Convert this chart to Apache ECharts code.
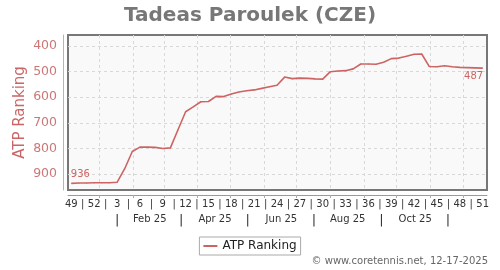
<!DOCTYPE html>
<html><head><meta charset="utf-8">
<script src="https://cdn.jsdelivr.net/npm/echarts@6/dist/echarts.min.js"></script>
<style>html,body{margin:0;padding:0;background:#fff}#c{width:500px;height:270px}</style>
</head><body><div id="c"></div>
<script>
// ISO week numbers, week 49 of 2024 through week 51 of 2025
const weekNumbers = [49,50,51,52,1,2,3,4,5,6,7,8,9,10,11,12,13,14,15,16,17,18,19,20,21,22,23,24,25,26,27,28,29,30,31,32,33,34,35,36,37,38,39,40,41,42,43,44,45,46,47,48,49,50,51];
// ATP ranking per week
const ranking = [936,935,935,934,934,934,932,879,812,795,795,796,800,798,727,657,638,618,617,597,598,588,580,575,572,566,560,554,522,528,526,527,529,530,501,498,497,490,471,471,472,464,450,448,441,433,432,481,482,478,482,484,485,486,487];
// days from 1 Jan 2025 of each month start (grid lines)
const monthStartDays = [0,31,59,90,120,151,181,212,243,273,304,334];
const monthLabels = ['Feb 25','Apr 25','Jun 25','Aug 25','Oct 25'];
const monthLabelDays = [46,106,167,228,290];
const monthSepDays = [16,75,136,197,259,320];
const yTicks = [400,500,600,700,800,900];
const seriesName = 'ATP Ranking';
const titleText = 'Tadeas Paroulek (CZE)';
const copyright = '\u00a9 www.coretennis.net, 12-17-2025';

const FIRST_DAY = -26; // date of first week point relative to 1 Jan 2025
const weekDay = i => FIRST_DAY + 7 * i;
const key = v => Number(v).toFixed(2);

const row1 = new Map();
const row1Vals = [];
for (let i = 0; i < weekNumbers.length; i += 3) {
  row1.set(key(weekDay(i)), String(weekNumbers[i])); row1Vals.push(weekDay(i));
  if (i + 3 < weekNumbers.length) { const s = weekDay(i + 1.5); row1.set(key(s), '|'); row1Vals.push(s); }
}
const row2 = new Map();
const row2Vals = [];
monthLabels.forEach((m, k) => { row2.set(key(monthLabelDays[k]), m); row2Vals.push(monthLabelDays[k]); });
monthSepDays.forEach(d => { row2.set(key(d), '{s||}'); row2Vals.push(d); });

const lineColor = '#cd6464';
const data = ranking.map((v, i) => {
  const item = { value: [weekDay(i), v] };
  if (i === 0) item.label = { show: true, position: 'top', offset: [9, 0], distance: 3 };
  if (i === ranking.length - 1) item.label = { show: true, position: 'bottom', offset: [-9, 0], distance: 3 };
  return item;
});

const XMIN = -29.1, XMAX = 356;
const chart = echarts.init(document.getElementById('c'), null, { renderer: 'canvas' });
chart.setOption({
  animation: false,
  textStyle: { fontFamily: 'DejaVu Sans' },
  title: { text: titleText, left: 'center', top: 1,
    textStyle: { fontSize: 20, fontWeight: 'bold', color: '#777', fontFamily: 'DejaVu Sans' } },
  legend: { data: [seriesName], top: 237, left: 'center', icon: 'rect', itemWidth: 14, itemHeight: 2,
    padding: [3, 4], borderColor: '#aaa', borderWidth: 1, backgroundColor: '#fff',
    textStyle: { fontSize: 12, color: '#222' } },
  grid: { left: 68, right: 13, top: 35, bottom: 80, show: true, backgroundColor: '#f9f9f9',
    borderColor: '#777', borderWidth: 2 },
  xAxis: [
    { type: 'value', min: XMIN, max: XMAX, position: 'bottom',
      axisLine: { show: false, onZero: false }, axisLabel: { show: false },
      axisTick: { show: false, customValues: monthStartDays },
      splitLine: { show: true, lineStyle: { color: '#d8d8d8', type: [3, 3], width: 1 } } },
    { type: 'value', min: XMIN, max: XMAX, position: 'bottom', offset: 5,
      axisLine: { show: true, onZero: false, lineStyle: { color: '#999', width: 1 } },
      axisTick: { show: true, customValues: monthStartDays, length: 3, lineStyle: { color: '#aaa' } },
      splitLine: { show: false },
      axisLabel: { customValues: row1Vals, margin: 4, fontSize: 10, color: '#333',
        formatter: v => row1.get(key(v)) || '' } },
    { type: 'value', min: XMIN, max: XMAX, position: 'bottom', offset: 20,
      axisLine: { show: false, onZero: false }, axisTick: { show: false },
      splitLine: { show: false },
      axisLabel: { customValues: row2Vals, margin: 4, fontSize: 10, color: '#333',
        rich: { s: { fontSize: 13, color: '#333' } },
        formatter: v => row2.get(key(v)) || '' } }
  ],
  yAxis: { type: 'value', inverse: true, min: 358, max: 962, offset: 5, position: 'left',
    name: seriesName, nameLocation: 'middle', nameGap: 35, nameRotate: 90, nameMoveOverlap: false,
    nameTextStyle: { fontSize: 15, color: '#cc6666' },
    axisLine: { show: true, onZero: false, lineStyle: { color: '#dba5a5', width: 1 } },
    axisTick: { show: false, customValues: yTicks },
    axisLabel: { customValues: yTicks, margin: 6, fontSize: 12.5, color: '#cc7777' },
    splitLine: { show: true, lineStyle: { color: '#d8d8d8', type: [3, 3], width: 1 } } },
  series: [{ name: seriesName, type: 'line', xAxisIndex: 0, data: data,
    symbol: 'circle', symbolSize: 1, showSymbol: true,
    itemStyle: { color: lineColor }, lineStyle: { color: lineColor, width: 1.6 },
    label: { show: false, color: lineColor, fontSize: 10 } }],
  graphic: [{ type: 'text', right: 12, top: 256,
    style: { text: copyright, fontSize: 10, fill: '#666', fontFamily: 'DejaVu Sans' } }]
});
</script></body></html>
